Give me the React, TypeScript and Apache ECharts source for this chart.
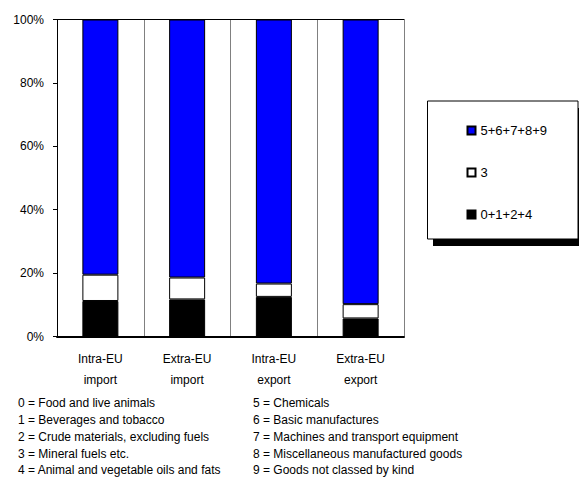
import React, { useEffect, useRef } from "react";
import * as echarts from "echarts";

// Trade flows and their product-group shares (percent of total)
const categories = ["Intra-EU\nimport", "Extra-EU\nimport", "Intra-EU\nexport", "Extra-EU\nexport"];
const groupsFoodRaw = [11.2, 11.7, 12.5, 5.7]; // 0+1+2+4
const groupsFuels = [8.3, 6.9, 4.2, 4.5]; // 3
const groupsManufactured = [80.5, 81.4, 83.3, 89.8]; // 5+6+7+8+9

const yTicks = [0, 20, 40, 60, 80, 100];

const notesLeft = [
  "0 = Food and live animals",
  "1 = Beverages and tobacco",
  "2 = Crude materials, excluding fuels",
  "3 = Mineral fuels etc.",
  "4 = Animal and vegetable oils and fats",
];
const notesRight = [
  "5 = Chemicals",
  "6 = Basic manufactures",
  "7 = Machines and transport equipment",
  "8 = Miscellaneous manufactured goods",
  "9 = Goods not classed by kind",
];

const FONT = "'Liberation Sans', Arial, Helvetica, sans-serif";

export default function App() {
  const ref = useRef<HTMLDivElement>(null);

  useEffect(() => {
    if (!ref.current) return;
    const chart = echarts.init(ref.current, undefined, { renderer: "svg" });

    const noteRowsY = [403, 420, 437, 453.5, 470];
    const noteTexts: any[] = [];
    notesLeft.forEach((t, i) =>
      noteTexts.push({
        type: "text",
        x: 18,
        y: noteRowsY[i],
        style: { text: t, font: `12px ${FONT}`, fill: "#000", textVerticalAlign: "middle" },
      })
    );
    notesRight.forEach((t, i) =>
      noteTexts.push({
        type: "text",
        x: 253,
        y: noteRowsY[i],
        style: { text: t, font: `12px ${FONT}`, fill: "#000", textVerticalAlign: "middle" },
      })
    );

    chart.setOption({
      animation: false,
      textStyle: { fontFamily: FONT },
      grid: { left: 57, right: 178, top: 19.5, bottom: 140.5, containLabel: false },
      graphic: [
        { type: "rect", z: -1, shape: { x: 433, y: 108, width: 146, height: 138 }, style: { fill: "#000" } },
        {
          type: "rect",
          z: -1,
          shape: { x: 427.5, y: 101, width: 150.5, height: 138 },
          style: { fill: "#fff", stroke: "#000", lineWidth: 1 },
        },
        ...noteTexts,
      ],
      legend: {
        orient: "vertical",
        left: 461.5,
        top: 119,
        icon: "rect",
        itemWidth: 8,
        itemHeight: 8,
        itemGap: 29,
        itemTextGap: 2,
        data: ["5+6+7+8+9", "3", "0+1+2+4"],
        textStyle: { fontSize: 13, color: "#000", fontFamily: FONT },
        selectedMode: false,
      },
      xAxis: [
        {
          type: "category",
          data: categories,
          axisLine: { show: true, lineStyle: { color: "#000", width: 2 } },
          axisTick: { show: false },
          axisLabel: { color: "#000", fontSize: 12, lineHeight: 21, margin: 12, fontFamily: FONT },
          splitLine: { show: true, lineStyle: { color: "#808080", width: 1 } },
        },
        {
          type: "category",
          position: "top",
          data: categories,
          axisLine: { show: true, lineStyle: { color: "#000", width: 1 } },
          axisTick: { show: false },
          axisLabel: { show: false },
          splitLine: { show: false },
        },
      ],
      yAxis: {
        type: "value",
        min: yTicks[0],
        max: yTicks[yTicks.length - 1],
        interval: 20,
        axisLine: { show: true, lineStyle: { color: "#000", width: 1 } },
        axisTick: { show: true, inside: false, length: 4, lineStyle: { color: "#000" } },
        axisLabel: { color: "#000", fontSize: 12, margin: 13, formatter: "{value}%", fontFamily: FONT },
        splitLine: { show: false },
      },
      series: [
        {
          name: "0+1+2+4",
          type: "bar",
          stack: "share",
          barWidth: 36,
          data: groupsFoodRaw,
          itemStyle: { color: "#000", borderColor: "#000", borderWidth: 1 },
        },
        {
          name: "3",
          type: "bar",
          stack: "share",
          barWidth: 36,
          data: groupsFuels,
          itemStyle: { color: "#fff", borderColor: "#000", borderWidth: 1 },
        },
        {
          name: "5+6+7+8+9",
          type: "bar",
          stack: "share",
          barWidth: 36,
          data: groupsManufactured,
          itemStyle: { color: "#0000ff", borderColor: "#000", borderWidth: 1 },
        },
      ],
    });

    return () => chart.dispose();
  }, []);

  return (
    <div
      ref={ref}
      style={{ position: "absolute", left: 0, top: 0, width: 582, height: 477, background: "#fff" }}
    />
  );
}
